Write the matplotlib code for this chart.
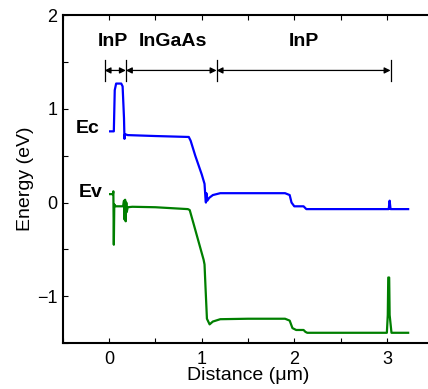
import matplotlib.pyplot as plt
from matplotlib.ticker import MultipleLocator, FuncFormatter

# band edges (distance in um, energy in eV)
ec_x = [0.01, 0.05, 0.06, 0.075, 0.13, 0.145, 0.16, 0.165, 0.17, 0.2, 0.5, 0.86,
        0.88, 0.93, 1.0, 1.03, 1.04, 1.045, 1.05, 1.06, 1.08, 1.12, 1.2, 1.5, 1.9,
        1.95, 1.97, 2.0, 2.1, 2.12, 2.13, 3.0, 3.02, 3.03, 3.04, 3.06, 3.23]
ec_y = [0.76, 0.76, 1.2, 1.27, 1.27, 1.24, 0.9, 0.68, 0.73, 0.72, 0.71, 0.70,
        0.66, 0.5, 0.3, 0.2, 0.05, 0.0, 0.1, 0.02, 0.05, 0.08, 0.1, 0.1, 0.1,
        0.08, 0.0, -0.04, -0.04, -0.06, -0.07, -0.07, -0.07, 0.02, -0.07, -0.07, -0.07]

ev_x = [0.01, 0.04, 0.045, 0.05, 0.055, 0.07, 0.15, 0.16, 0.165, 0.172, 0.178,
        0.185, 0.19, 0.2, 0.25, 0.5, 0.85, 0.87, 0.91, 1.02, 1.03, 1.04, 1.056,
        1.085, 1.12, 1.2, 1.5, 1.9, 1.95, 1.98, 2.02, 2.1, 2.12, 2.14, 3.0, 3.01,
        3.015, 3.025, 3.03, 3.05, 3.23]
ev_y = [0.09, 0.09, 0.12, -0.45, -0.02, -0.04, -0.04, 0.02, -0.18, 0.03, -0.2,
        0.0, -0.1, -0.05, -0.045, -0.05, -0.07, -0.08, -0.22, -0.61, -0.66, -0.89,
        -1.24, -1.30, -1.27, -1.245, -1.24, -1.24, -1.26, -1.34, -1.36, -1.36,
        -1.38, -1.39, -1.39, -1.2, -0.8, -0.8, -1.2, -1.39, -1.39]

# layer boundaries and labels
layer_edges = [-0.05, 0.18, 1.16, 3.04]
layer_names = ['InP', 'InGaAs', 'InP']
layer_label_x = [0.04, 0.69, 2.1]
arrow_y = 1.41
label_y = 1.72

plt.rcParams['font.family'] = ['Liberation Sans', 'DejaVu Sans']

fig = plt.figure(figsize=(4.28, 3.89), dpi=100)
ax = fig.add_axes([0.147, 0.118, 0.865, 0.843])

ax.plot(ec_x, ec_y, color='#0000ff', lw=1.6)
ax.plot(ev_x, ev_y, color='#007f00', lw=1.6)

# layer arrows
for i in range(len(layer_edges) - 1):
    ax.annotate('', xy=(layer_edges[i + 1], arrow_y), xytext=(layer_edges[i], arrow_y),
                arrowprops=dict(arrowstyle='<|-|>', mutation_scale=9, lw=0.9,
                                color='black', shrinkA=0, shrinkB=0))
for e in layer_edges:
    ax.plot([e, e], [arrow_y - 0.11, arrow_y + 0.11], color='black', lw=0.9)
for name, lx in zip(layer_names, layer_label_x):
    ax.text(lx, label_y, name, ha='center', va='center', fontsize=14, fontweight='bold')

ax.text(-0.23, 0.79, 'Ec', ha='center', va='center', fontsize=14, fontweight='bold')
ax.text(-0.2, 0.105, 'Ev', ha='center', va='center', fontsize=14, fontweight='bold')

ax.set_xlim(-0.5, 3.5)
ax.set_ylim(-1.5, 2)
fmt = FuncFormatter(lambda v, p: ('%d' % round(v)).replace('-', '\u2212') if abs(v - round(v)) < 1e-6 else '')
for axis in (ax.xaxis, ax.yaxis):
    axis.set_major_locator(MultipleLocator(0.5))
    axis.set_major_formatter(fmt)
ax.tick_params(direction='in', top=True, right=True, length=3.5, width=0.8, labelsize=13)
ax.tick_params(axis='x', pad=6)
ax.tick_params(axis='y', pad=4)
for s in ax.spines.values():
    s.set_linewidth(1.5)

ax.set_xlabel('Distance (\u03bcm)', fontsize=14, labelpad=-1)
ax.set_ylabel('Energy (eV)', fontsize=14, labelpad=2)

fig.savefig('out.png', dpi=100)
